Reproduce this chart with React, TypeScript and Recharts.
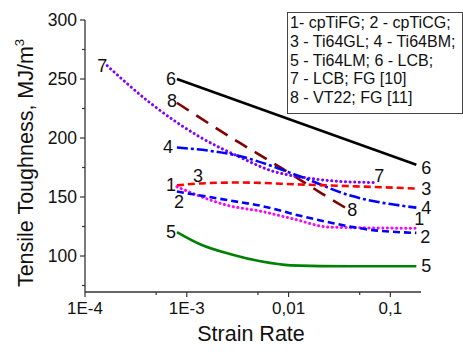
import React from 'react'
import { LineChart, Line, XAxis, YAxis } from 'recharts'

// strain rate (1/s) vs tensile toughness (MJ/m^3)
const s1 = [[8e-4, 158.6], [2.7e-3, 142.3], [5.3e-3, 138], [0.0104, 132.1], [0.026, 124.4], [0.18, 123.5]]
const s2 = [[8e-4, 154.6], [2.7e-3, 146.9], [5.3e-3, 142.6], [0.013, 134.1], [0.026, 128.2], [0.064, 122.2], [0.18, 119.6]]
const s3 = [[8e-4, 159.8], [1.35e-3, 161.5], [3.35e-3, 162.3], [0.013, 160.6], [0.05, 158.9], [0.18, 157.2]]
const s4 = [[8e-4, 192], [3.35e-3, 184.5], [0.0122, 168.3], [0.0404, 151.2], [0.18, 141]]
const s5 = [[8e-4, 120.3], [1.35e-3, 110], [2.7e-3, 101.5], [5.3e-3, 95.5], [0.0104, 92.1], [0.0404, 91.3], [0.18, 91.3]]
const s6 = [[8e-4, 250], [0.18, 177.4]]
const s7 = [[1.65e-4, 261.3], [4.36e-4, 229.8], [1.35e-3, 200.8], [3.35e-3, 183.7], [6.6e-3, 172.6], [0.0163, 165.8], [0.0322, 163.2], [0.068, 162.3]]
const s8 = [[8e-4, 229.8], [3.35e-3, 195.6], [8.3e-3, 175.1], [0.0205, 153.8], [0.036, 141]]

const legendLines = [
  '1- cpTiFG; 2 - cpTiCG;',
  '3 - Ti64GL; 4 - Ti64BM;',
  '5 - Ti64LM; 6 - LCB;',
  '7 - LCB; FG [10]',
  '8 - VT22; FG [11]',
]

const xTicks = [1e-4, 5e-4, 1e-3, 5e-3, 0.01, 0.05, 0.1]
const xLabels: Record<string, string> = { '0.0001': '1E-4', '0.001': '1E-3', '0.01': '0,01', '0.1': '0,1' }
const yTicks = [75, 100, 125, 150, 175, 200, 225, 250, 275, 300]

const toRows = (pts: number[][]) => pts.map(([x, v]) => ({ x, v }))

const FONT = '"Liberation Sans", Arial, sans-serif'
const AXIS = '#333'

// name, colour, dash, start label offset, end label offset
const series = [
  { id: '6', data: s6, color: '#000000', dash: undefined, round: false, start: [-6, 0], end: [10, 3] },
  { id: '8', data: s8, color: '#800000', dash: '14 9', round: false, start: [-5, -2], end: [7, 2] },
  { id: '7', data: s7, color: '#8000ff', dash: '0.1 4.5', round: true, start: [-5, 0], end: [6, -6] },
  { id: '4', data: s4, color: '#0000ff', dash: '11 3 3 3', round: false, start: [-9, 0], end: [10, 0] },
  { id: '3', data: s3, color: '#ff0000', dash: '7 4', round: false, start: [21, -9], end: [10, 0] },
  { id: '1', data: s1, color: '#ff00ff', dash: '0.1 4.5', round: true, start: [-6, -2], end: [3, -9] },
  { id: '2', data: s2, color: '#0000ff', dash: '7 4', round: false, start: [2, 10], end: [9, 4] },
  { id: '5', data: s5, color: '#008000', dash: undefined, round: false, start: [-6, 0], end: [10, 0] },
]

const XTick = (props: any) => {
  const { x, y, payload } = props
  const lbl = xLabels[String(payload.value)]
  return (
    <g>
      <line x1={x} x2={x} y1={y} y2={y + (lbl ? 5 : 3)} stroke={AXIS} strokeWidth={1.2} />
      {lbl && (
        <text x={x} y={y + 16} textAnchor="middle" dominantBaseline="central" fontSize={17} fill="#111" fontFamily={FONT}>
          {lbl}
        </text>
      )}
    </g>
  )
}

const YTick = (props: any) => {
  const { x, y, payload } = props
  const major = payload.value % 50 === 0
  return (
    <g>
      <line x1={x} x2={x - (major ? 5 : 3)} y1={y} y2={y} stroke={AXIS} strokeWidth={1.2} />
      {major && (
        <text x={x - 8} y={y} textAnchor="end" dominantBaseline="central" fontSize={17.5} fill="#111" fontFamily={FONT}>
          {payload.value}
        </text>
      )}
    </g>
  )
}

const endLabel = (s: (typeof series)[number]) => (p: any) => {
  const last = s.data.length - 1
  if (p.index !== 0 && p.index !== last) return <g />
  const [dx, dy] = p.index === 0 ? s.start : s.end
  return (
    <text x={p.x + dx} y={p.y + dy} textAnchor="middle" dominantBaseline="central" fontSize={18} fill="#111" fontFamily={FONT}>
      {s.id}
    </text>
  )
}

export default function App() {
  return (
    <div style={{ position: 'fixed', left: 0, top: 0, width: 463, height: 352, background: '#fff', fontFamily: FONT }}>
      <LineChart width={463} height={352} margin={{ top: 20, right: 42, bottom: 0, left: 0 }}>
        <XAxis
          dataKey="x"
          type="number"
          scale="log"
          domain={[1e-4, 0.2]}
          allowDataOverflow
          ticks={xTicks}
          interval={0}
          height={60}
          tickSize={0}
          tickMargin={0}
          tickLine={false}
          axisLine={{ stroke: AXIS, strokeWidth: 1.3 }}
          tick={<XTick />}
          label={{
            content: (p: any) => (
              <text x={p.viewBox.x + p.viewBox.width / 2 - 2} y={p.viewBox.y + 49} textAnchor="middle" fontSize={21.5} fill="#111" fontFamily={FONT}>
                Strain Rate
              </text>
            ),
          }}
        />
        <YAxis
          type="number"
          domain={[69.5, 300]}
          allowDataOverflow
          ticks={yTicks}
          interval={0}
          width={85}
          tickSize={0}
          tickMargin={0}
          tickLine={false}
          axisLine={{ stroke: AXIS, strokeWidth: 1.3 }}
          tick={<YTick />}
          label={{
            content: (p: any) => {
              const cx = 33
              const cy = p.viewBox.y + p.viewBox.height / 2 + 7
              return (
                <text x={cx} y={cy} transform={`rotate(-90, ${cx}, ${cy})`} textAnchor="middle" fontSize={21.5} fill="#111" fontFamily={FONT}>
                  Tensile Toughness, MJ/m
                  <tspan fontSize={13} dy={-9}>3</tspan>
                </text>
              )
            },
          }}
        />
        {series.map((s) => (
          <Line
            key={s.id}
            data={toRows(s.data)}
            dataKey="v"
            type="monotone"
            stroke={s.color}
            strokeWidth={s.round ? 3 : 2.6}
            strokeDasharray={s.dash}
            strokeLinecap={s.round ? 'round' : 'butt'}
            dot={false}
            activeDot={false}
            isAnimationActive={false}
            label={endLabel(s)}
          />
        ))}
      </LineChart>
      <div
        style={{
          position: 'absolute',
          left: 287,
          top: 12,
          width: 172,
          height: 99,
          border: '1px solid #444',
          fontSize: 16,
          lineHeight: '18.75px',
          paddingLeft: 2,
          paddingTop: 1,
          color: '#111',
          boxSizing: 'content-box',
          whiteSpace: 'nowrap',
        }}
      >
        {legendLines.map((t) => (
          <div key={t}>{t}</div>
        ))}
      </div>
    </div>
  )
}
